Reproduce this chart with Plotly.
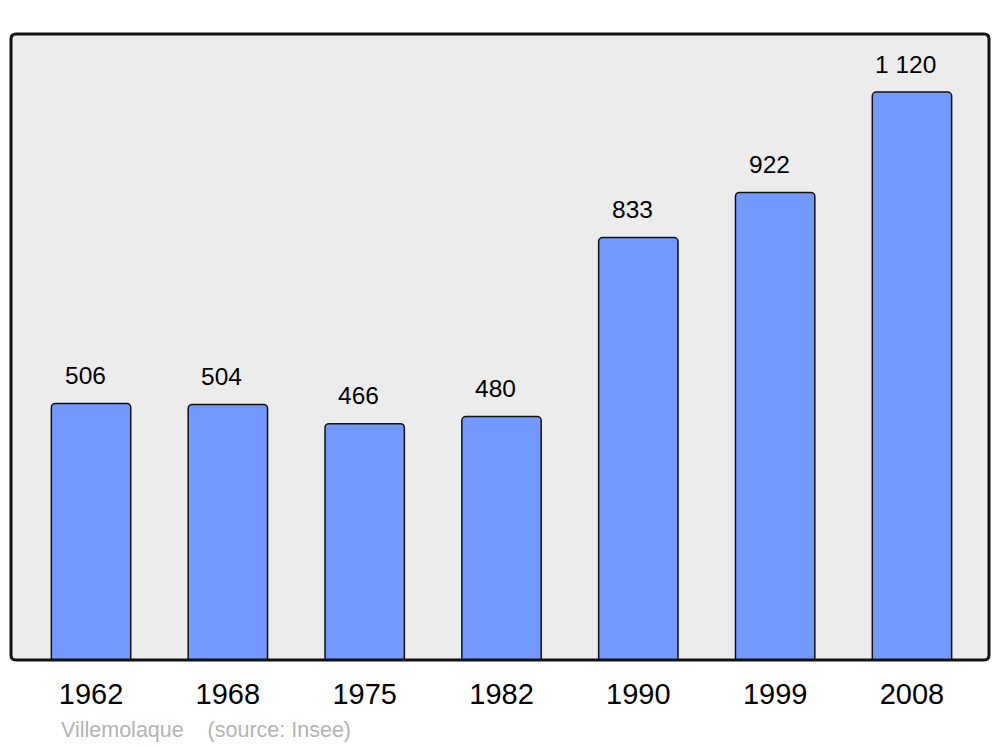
import plotly.graph_objects as go

years = ["1962", "1968", "1975", "1982", "1990", "1999", "2008"]
population = [506, 504, 466, 480, 833, 922, 1120]
value_labels = ["506", "504", "466", "480", "833", "922", "1 120"]
source_text = "Villemolaque    (source: Insee)"

xs = list(range(len(years)))

# page body has an 8px margin; figure coords = window coords - 8
PW, PH = 978, 626

fig = go.Figure()
fig.add_trace(go.Bar(
    x=xs, y=population, width=0.58,
    marker=dict(color="#7399ff", line=dict(color="#111111", width=1.5)),
    hoverinfo="skip",
))

for x, v, lab in zip(xs, population, value_labels):
    fig.add_annotation(x=x, y=v, text=lab, showarrow=False, yshift=28, xshift=-6,
                       font=dict(size=24.5, color="#000000", family="Liberation Sans, Arial, sans-serif"),
                       xref="x", yref="y")

fig.add_annotation(xref="paper", yref="paper", x=(59 - 11) / PW, y=(660 - 730) / PH,
                   xanchor="left", yanchor="middle", showarrow=False, text=source_text,
                   font=dict(size=21.5, color="#b3b3b3", family="Liberation Sans, Arial, sans-serif"))

rx, ry = 5 / PW, 5 / PH
path = (f"M {rx},0 L {1-rx},0 Q 1,0 1,{ry} L 1,{1-ry} Q 1,1 {1-rx},1 "
        f"L {rx},1 Q 0,1 0,{1-ry} L 0,{ry} Q 0,0 {rx},0 Z")
fig.add_shape(type="path", path=path, xref="paper", yref="paper",
              line=dict(color="#111111", width=3), layer="above")

fig.update_layout(
    width=992, height=739,
    margin=dict(l=3, r=11, t=26, b=87),
    paper_bgcolor="white", plot_bgcolor="#ececec",
    showlegend=False, barcornerradius=4,
    font=dict(family="Liberation Sans, Arial, sans-serif"),
    xaxis=dict(range=[-0.585, 6.563], tickmode="array", tickvals=xs, ticktext=years,
               showgrid=False, zeroline=False, showline=False, ticks="",
               tickfont=dict(size=29, color="#000000"), ticklabelstandoff=14),
    yaxis=dict(range=[0, 1234.4], showgrid=False, zeroline=False, showline=False,
               showticklabels=False, ticks=""),
)

fig.write_html("out.html")
